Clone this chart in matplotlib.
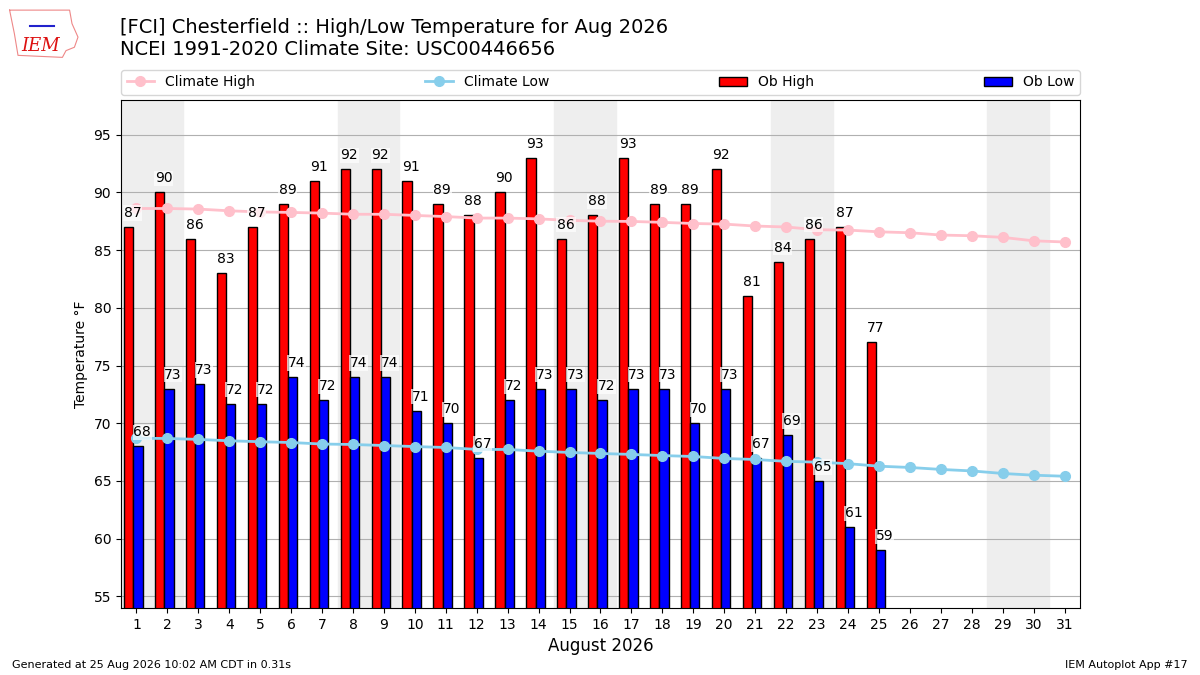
import numpy as np
import matplotlib
matplotlib.use("Agg")
import matplotlib.pyplot as plt

# day of month
days = list(range(1, 32))
obs_days = list(range(1, 26))

# observed daily high / low, deg F (through Aug 25)
ob_high = [87, 90, 86, 83, 87, 89, 91, 92, 92, 91, 89, 88, 90, 93, 86, 88,
           93, 89, 89, 92, 81, 84, 86, 87, 77]
ob_low = [68, 73, 73.4, 71.7, 71.7, 74, 72, 74, 74, 71.1, 70, 67, 72, 73, 73,
          72, 73, 73, 70, 73, 67, 69, 65, 61, 59]

# NCEI 1991-2020 daily climate
clim_high = [88.6, 88.6, 88.55, 88.4, 88.3, 88.26, 88.2, 88.1, 88.1, 88.0,
             87.9, 87.77, 87.77, 87.7, 87.57, 87.5, 87.48, 87.4, 87.3, 87.25,
             87.08, 87.0, 86.76, 86.73, 86.58, 86.5, 86.3, 86.24, 86.1, 85.8,
             85.7]
clim_low = [68.7, 68.68, 68.6, 68.48, 68.4, 68.33, 68.2, 68.16, 68.07, 67.98,
            67.9, 67.73, 67.73, 67.58, 67.47, 67.38, 67.3, 67.2, 67.12, 66.95,
            66.86, 66.7, 66.63, 66.5, 66.28, 66.17, 66.0, 65.87, 65.65, 65.5,
            65.41]

# weekends (Aug 1 2026 is a Saturday)
weekend_starts = [1, 8, 15, 22, 29]

fig = plt.figure(figsize=(12, 6.75), dpi=100)
ax = fig.add_axes([0.1008, 0.0993, 0.7992, 0.7526])

for d in weekend_starts:
    ax.axvspan(d - 0.5, d + 1.5, color="#eeeeee", zorder=0)

xo = np.array(obs_days)
ax.plot(days, clim_high, color="pink", marker="o", ms=7, lw=2,
        label="Climate High", zorder=3)
ax.plot(days, clim_low, color="skyblue", marker="o", ms=7, lw=2,
        label="Climate Low", zorder=3)
ax.bar(xo - 0.4, ob_high, width=0.3, align="edge", fc="r", ec="k",
       label="Ob High", zorder=2)
ax.bar(xo - 0.1, ob_low, width=0.3, align="edge", fc="b", ec="k",
       label="Ob Low", zorder=2)

box = dict(facecolor="white", edgecolor="none", alpha=0.7, pad=0.5)
for d, h, l in zip(obs_days, ob_high, ob_low):
    ax.text(d - 0.4, h + 0.6, "%.0f" % h, ha="left", va="bottom",
            fontsize=10, bbox=box, zorder=4)
    ax.text(d - 0.1, l + 0.6, "%.0f" % l, ha="left", va="bottom",
            fontsize=10, bbox=box, zorder=4)

ax.set_xlim(0.5, 31.5)
ax.set_ylim(54, 98)
ax.set_xticks(days)
ax.set_yticks(range(55, 96, 5))
ax.yaxis.grid(True, color="#b0b0b0", zorder=1)
ax.set_axisbelow(True)
ax.set_xlabel("August 2026", fontsize=12)
ax.set_ylabel("Temperature °F")

ax.legend(bbox_to_anchor=(0, 1.01, 1, 0.06), loc="lower left", ncol=4,
          mode="expand", borderaxespad=0.0, fontsize=10)

fig.text(0.1, 0.945, "[FCI] Chesterfield :: High/Low Temperature for Aug 2026",
         fontsize=14, va="bottom")
fig.text(0.1, 0.912, "NCEI 1991-2020 Climate Site: USC00446656",
         fontsize=14, va="bottom")

# rough IEM logo
fig.text(0.018, 0.925, "IEM", color="#d11", fontsize=13, style="italic",
         family="serif")
ol_x = [0.008, 0.058, 0.06, 0.065, 0.062, 0.055, 0.052, 0.015, 0.012, 0.008]
ol_y = [0.985, 0.985, 0.965, 0.945, 0.93, 0.925, 0.915, 0.918, 0.95, 0.985]
fig.add_artist(plt.Line2D(ol_x, ol_y, color="#e88", lw=0.8,
                          transform=fig.transFigure))
fig.add_artist(plt.Line2D([0.025, 0.045], [0.962, 0.962], color="#22c",
                          lw=1.5, transform=fig.transFigure))

fig.text(0.01, 0.01, "Generated at 25 Aug 2026 10:02 AM CDT in 0.31s",
         fontsize=8)
fig.text(0.99, 0.01, "IEM Autoplot App #17", fontsize=8, ha="right")

fig.savefig("out.png")
